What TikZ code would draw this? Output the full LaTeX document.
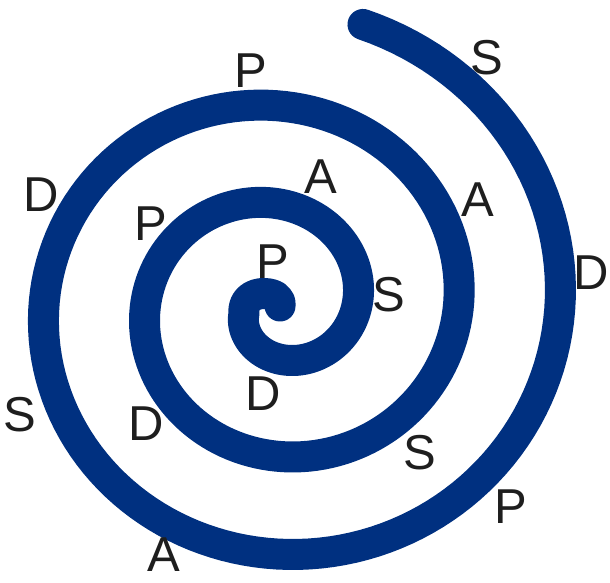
\documentclass[tikz,border=0pt]{standalone}
\usepackage{fontspec}
\setmainfont{Liberation Sans}
\definecolor{spiralblue}{RGB}{0,48,128}
\definecolor{lettergray}{RGB}{30,30,30}
\begin{document}
\begin{tikzpicture}[x=0.5pt,y=-0.5pt,
  spiral/.style={draw=spiralblue, line width=15.5pt, line cap=round, line join=round},
  lbl/.style={font=\fontsize{24.5}{24.5}\selectfont, text=lettergray, inner sep=0pt, anchor=center}]
\useasboundingbox (0,0) rectangle (610,583);
\draw[spiral] plot[domain=-73.5:885, samples=400, variable=\t]
  ({276.6+(283.4-0.282*\t)*cos(\t)}, {305.4+0.9635*(283.4-0.282*\t)*sin(\t)})
  .. controls (242.5,300) and (253,293) .. (265,293.5)
  .. controls (276,294) and (281,299) .. (280,306);
\node[lbl] (s1) at (487,58) {S};
\node[lbl] (p1) at (251,71) {P};
\node[lbl] (d1) at (41,195) {D};
\node[lbl] (a1) at (321,177) {A};
\node[lbl] (a2) at (478,200) {A};
\node[lbl] (p2) at (151,224) {P};
\node[lbl] (p3) at (273,262) {P};
\node[lbl] (s2) at (389,295) {S};
\node[lbl] (d2) at (591,273) {D};
\node[lbl] (d3) at (263,394) {D};
\node[lbl] (s3) at (20,415) {S};
\node[lbl] (d4) at (146,424) {D};
\node[lbl] (s4) at (420,453) {S};
\node[lbl] (p4) at (511,507) {P};
\node[lbl] (a3) at (164,555) {A};
\end{tikzpicture}
\end{document}
